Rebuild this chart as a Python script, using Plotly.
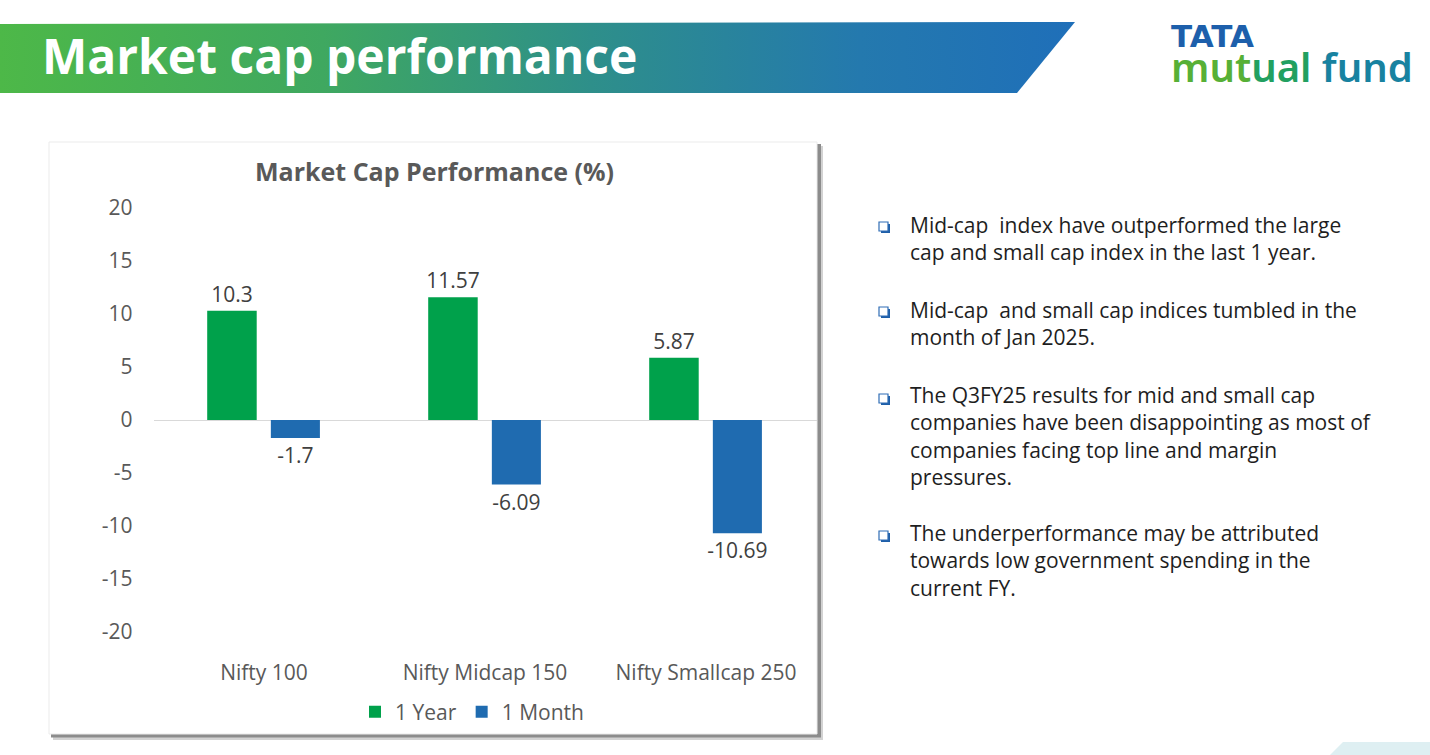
import plotly.graph_objects as go

# ---------------- data ----------------
categories = ["Nifty 100", "Nifty Midcap 150", "Nifty Smallcap 250"]
one_year = [10.3, 11.57, 5.87]
one_month = [-1.7, -6.09, -10.69]
year_labels = ["10.3", "11.57", "5.87"]
month_labels = ["-1.7", "-6.09", "-10.69"]
y_ticks = [20, 15, 10, 5, 0, -5, -10, -15, -20]
y_tick_labels = ["20", "15", "10", "5", "0", "-5", "-10", "-15", "-20"]

slide_title = "Market cap performance"
chart_title = "Market Cap Performance (%)"
bullets = [
    ["Mid-cap  index have outperformed the large", "cap and small cap index in the last 1 year."],
    ["Mid-cap  and small cap indices tumbled in the", "month of Jan 2025."],
    ["The Q3FY25 results for mid and small cap", "companies have been disappointing as most of",
     "companies facing top line and margin", "pressures."],
    ["The underperformance may be attributed", "towards low government spending in the",
     "current FY."],
]

W, H = 1430, 755
FONT = "Open Sans"
GREEN = "#00A14B"
BLUE = "#1F6BB0"


def px(x):
    return x / W


def py(y):
    return 1 - y / H


fig = go.Figure()

# ---------------- banner (decoration axis in pixel space) ----------------
fig.add_trace(go.Scatter(
    x=[0, 1075, 1017, 0, 0], y=[24, 22, 93, 93, 24],
    mode="lines", line=dict(width=0), fill="toself",
    fillgradient=dict(type="horizontal",
                      colorscale=[[0, "#4DB848"], [0.3, "#3FA860"], [0.55, "#2E8F8A"],
                                  [0.8, "#2479AE"], [1, "#1F6FB9"]]),
    xaxis="x2", yaxis="y2", hoverinfo="skip", showlegend=False))

# faint bottom-right decoration
fig.add_trace(go.Scatter(
    x=[1330, 1343, 1430, 1430, 1330], y=[755, 742, 742, 755, 755],
    mode="lines", line=dict(width=0), fill="toself", fillcolor="rgba(200,228,234,0.6)",
    xaxis="x2", yaxis="y2", hoverinfo="skip", showlegend=False))

# ---------------- bars ----------------
fig.add_trace(go.Bar(
    name="1 Year", x=categories, y=one_year, marker=dict(color=GREEN, line=dict(width=0)),
    text=year_labels, textposition="outside", cliponaxis=False, constraintext="none",
    textfont=dict(family=FONT, size=21, color="#404040"),
    offset=-0.257, width=0.224))
fig.add_trace(go.Bar(
    name="1 Month", x=categories, y=one_month, marker=dict(color=BLUE, line=dict(width=0)),
    text=month_labels, textposition="outside", cliponaxis=False, constraintext="none",
    textfont=dict(family=FONT, size=21, color="#404040"),
    offset=0.031, width=0.222))

shapes = []
# chart panel with shadow
shapes.append(dict(type="rect", xref="paper", yref="paper", layer="below",
                   x0=px(53), x1=px(823), y0=py(146), y1=py(740),
                   fillcolor="#D2D2D2", line=dict(width=0)))
shapes.append(dict(type="rect", xref="paper", yref="paper", layer="below",
                   x0=px(51), x1=px(821), y0=py(144), y1=py(737.5),
                   fillcolor="#8C8C8C", line=dict(width=0)))
shapes.append(dict(type="rect", xref="paper", yref="paper", layer="below",
                   x0=px(49), x1=px(817), y0=py(142), y1=py(734),
                   fillcolor="white", line=dict(color="#EBEBEB", width=1)))

annotations = []
# slide title
annotations.append(dict(text="<b>" + slide_title + "</b>", xref="paper", yref="paper",
                        x=px(40), y=py(56), xanchor="left", yanchor="middle", showarrow=False,
                        font=dict(family=FONT, size=48, color="white")))
# logo (one block, two lines)
logo_txt = ("<span style='font-family:DejaVu Sans;font-size:31px;color:#1D5FAB'><b>TATA</b></span><br>"
            "<span style='font-size:40px;color:#57B036'>mut</span>"
            "<span style='font-size:40px;color:#22A060'>ual</span>"
            "<span style='font-size:40px;color:#1882A0'> fund</span>")
annotations.append(dict(text=logo_txt, xref="paper", yref="paper",
                        x=px(1169), y=py(56), xanchor="left", yanchor="middle", showarrow=False,
                        align="left",
                        font=dict(family="Noto Sans", size=27, color="#2FA156", weight=600)))
# chart title
annotations.append(dict(text="<b>" + chart_title + "</b>", xref="paper", yref="paper",
                        x=px(434), y=py(171), xanchor="center", yanchor="middle", showarrow=False,
                        font=dict(family=FONT, size=25, color="#595959")))

# bullets
para_tops = [226, 311, 398, 535]
line_h = 25
for lines, top in zip(bullets, para_tops):
    bx, by = 884, top + 2
    shapes.append(dict(type="rect", xref="paper", yref="paper",
                       x0=px(bx - 3), x1=px(bx + 6), y0=py(by - 4), y1=py(by + 5),
                       fillcolor="#1F5FA8", line=dict(width=0)))
    shapes.append(dict(type="rect", xref="paper", yref="paper",
                       x0=px(bx - 5), x1=px(bx + 4), y0=py(by - 6), y1=py(by + 3),
                       fillcolor="white", line=dict(color="#2F6DB5", width=1.2)))
    center = top + (len(lines) - 1) * line_h / 2
    annotations.append(dict(text="<br>".join(lines), xref="paper", yref="paper",
                            x=px(908), y=py(center), xanchor="left", yanchor="middle",
                            align="left", showarrow=False,
                            font=dict(family=FONT, size=21, color="#1E1E1E")))

fig.update_layout(
    width=W, height=H,
    margin=dict(l=0, r=0, t=0, b=0, pad=0, autoexpand=False),
    paper_bgcolor="white", plot_bgcolor="rgba(0,0,0,0)",
    barmode="overlay",
    font=dict(family=FONT, size=21, color="#595959"),
    shapes=shapes, annotations=annotations,
    showlegend=True,
    legend=dict(orientation="h", x=px(472), y=py(712), xanchor="center", yanchor="middle",
                font=dict(family=FONT, size=21, color="#595959"),
                bgcolor="rgba(0,0,0,0)", itemwidth=30, traceorder="normal"),
    xaxis=dict(domain=[px(153.5), px(816.5)], anchor="y", showgrid=False, showline=False,
               ticks="", ticklabelstandoff=26, automargin=False,
               tickfont=dict(family=FONT, size=21, color="#595959"), fixedrange=True),
    yaxis=dict(domain=[py(632), py(208)], anchor="x", range=[-20, 20],
               tickvals=y_ticks, ticktext=y_tick_labels, automargin=False,
               showgrid=False, showline=False, ticks="", ticklabelstandoff=20,
               zeroline=True, zerolinecolor="#D9D9D9", zerolinewidth=1,
               tickfont=dict(family=FONT, size=21, color="#595959"), fixedrange=True),
    xaxis2=dict(domain=[0, 1], range=[0, W], anchor="y2", visible=False, fixedrange=True),
    yaxis2=dict(domain=[0, 1], range=[H, 0], anchor="x2", visible=False, fixedrange=True),
)

fig.write_html("out.html", config={"displayModeBar": False},
               post_script="document.body.style.margin='0';document.body.style.overflow='hidden';")
